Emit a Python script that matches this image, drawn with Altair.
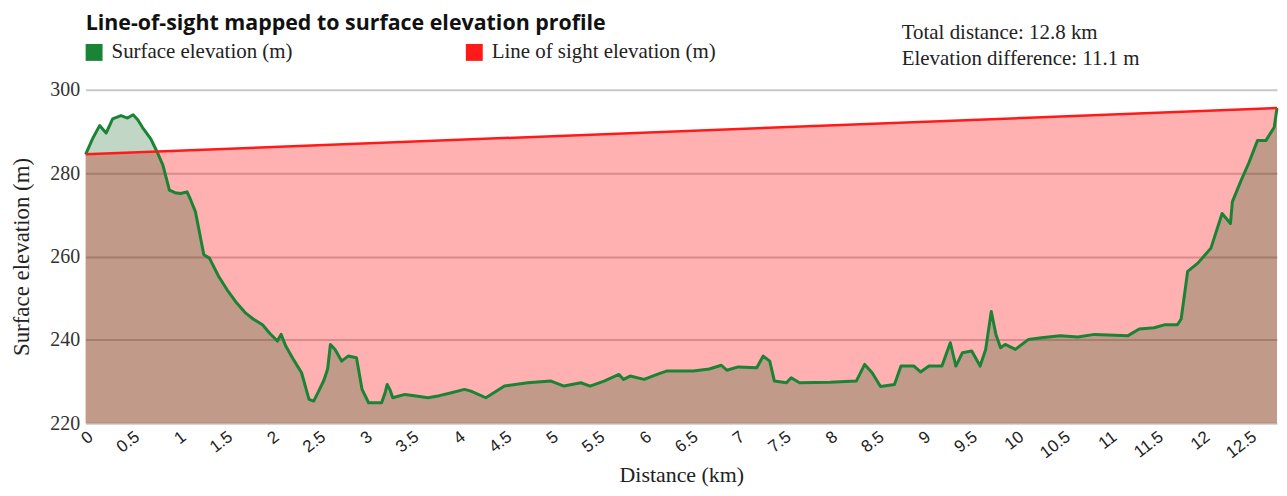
import altair as alt
import pandas as pd

# Surface elevation profile (distance km, elevation m)
dist = [0.00, 0.08, 0.15, 0.22, 0.29, 0.38, 0.45, 0.51, 0.56, 0.61, 0.70, 0.77, 0.83, 0.90, 0.96,
        1.02, 1.09, 1.13, 1.18, 1.27, 1.33, 1.43, 1.52, 1.61, 1.72, 1.80, 1.90, 1.98, 2.06, 2.10,
        2.15, 2.24, 2.32, 2.40, 2.45, 2.50, 2.56, 2.60, 2.63, 2.68, 2.75, 2.82, 2.91, 2.97, 3.04,
        3.18, 3.22, 3.24, 3.27, 3.30, 3.43, 3.55, 3.68, 3.80, 3.93, 4.07, 4.14, 4.30, 4.50, 4.75,
        5.00, 5.14, 5.32, 5.42, 5.57, 5.73, 5.78, 5.85, 6.00, 6.14, 6.24, 6.53, 6.70, 6.83, 6.89,
        7.01, 7.21, 7.28, 7.35, 7.40, 7.53, 7.58, 7.67, 8.00, 8.28, 8.37, 8.45, 8.54, 8.69, 8.76,
        8.90, 8.97, 9.06, 9.20, 9.29, 9.35, 9.42, 9.52, 9.61, 9.67, 9.73, 9.78, 9.83, 9.88, 9.99,
        10.13, 10.27, 10.47, 10.66, 10.84, 11.20, 11.32, 11.48, 11.59, 11.73, 11.77, 11.84, 11.95,
        12.09, 12.21, 12.30, 12.32, 12.41, 12.50, 12.59, 12.68, 12.77, 12.80]
elev = [284.5, 288.5, 291.4, 289.6, 293.0, 293.8, 293.2, 294.0, 292.8, 291.0, 288.2, 285.0, 281.9, 275.9, 275.3,
        275.1, 275.5, 273.5, 270.7, 260.4, 259.6, 255.2, 252.0, 249.2, 246.4, 245.0, 243.6, 241.5, 239.7, 241.3,
        238.5, 235.0, 232.1, 225.7, 225.3, 227.5, 230.3, 233.0, 238.9, 237.7, 234.9, 236.1, 235.7, 228.1, 224.9,
        224.9, 227.5, 229.3, 228.0, 226.1, 226.9, 226.5, 226.1, 226.6, 227.3, 228.1, 227.7, 226.1, 228.9, 229.7,
        230.1, 228.9, 229.7, 228.9, 230.1, 231.7, 230.5, 231.3, 230.5, 231.7, 232.5, 232.5, 233.0, 233.9, 232.7,
        233.5, 233.3, 236.1, 234.9, 230.1, 229.7, 230.9, 229.7, 229.8, 230.1, 234.1, 232.1, 228.8, 229.3, 233.7,
        233.7, 232.3, 233.7, 233.7, 239.3, 233.7, 236.9, 237.3, 233.7, 237.7, 246.8, 241.3, 238.1, 238.9, 237.7,
        240.1, 240.5, 241.0, 240.7, 241.3, 241.0, 242.6, 242.9, 243.6, 243.6, 245.0, 256.4, 258.4,
        262.0, 270.3, 267.9, 273.1, 278.0, 282.6, 287.8, 287.8, 291.0, 295.6]

# Line of sight endpoints
los_dist = [0.0, 12.8]
los_elev = [284.5, 295.6]

series_names = ["Surface elevation (m)", "Line of sight elevation (m)"]
series_colors = ["#1a8436", "#ff1a1a"]

x_ticks = [i * 0.5 for i in range(26)]
y_ticks = [220, 240, 260, 280, 300]

title_text = "Line-of-sight mapped to surface elevation profile"
info_lines = ["Total distance: 12.8 km", "Elevation difference: 11.1 m"]

surf = pd.DataFrame({"d": dist, "e": elev, "series": series_names[0]})
los = pd.DataFrame({"d": los_dist, "e": los_elev, "series": series_names[1]})

xs = alt.Scale(domain=[0, 12.8], nice=False, zero=False)
ys = alt.Scale(domain=[220, 300], nice=False, zero=False)

X = alt.X("d:Q", scale=xs, title="Distance (km)",
          axis=alt.Axis(values=x_ticks, format="~g", labelAngle=-38, labelFont="Liberation Sans",
                        labelFontSize=17, labelColor="#222", ticks=False, domain=False, grid=False,
                        labelPadding=5, titleFont="Liberation Serif", titleFontSize=22,
                        titleFontWeight="normal", titleColor="#222", titlePadding=4,
                        labelOverlap=False, labelFlush=False))
Y = alt.Y("e:Q", scale=ys, title="Surface elevation (m)",
          axis=alt.Axis(values=y_ticks, labelFont="Liberation Serif", labelFontSize=20,
                        labelColor="#333", ticks=False, domain=False, grid=True,
                        gridColor="#c8c8c8", gridWidth=2, labelPadding=6,
                        titleFont="Liberation Serif", titleFontSize=23, titleFontWeight="normal",
                        titleColor="#222", titlePadding=16))

color = alt.Color("series:N", scale=alt.Scale(domain=series_names, range=series_colors),
                  legend=alt.Legend(title=None, orient="none", legendX=-2, legendY=-48,
                                    direction="horizontal", symbolType="square", symbolSize=49,
                                    symbolStrokeWidth=10, labelFont="Liberation Serif",
                                    labelFontSize=21, labelColor="#222", labelOffset=7,
                                    columnPadding=159, labelLimit=400))

los_area = alt.Chart(los).mark_area(color="#ff0000", opacity=0.31).encode(
    x=X, y=Y, y2=alt.datum(220))
surf_area = alt.Chart(surf).mark_area(color="#00520e", opacity=0.24).encode(
    x=X, y=Y, y2=alt.datum(220))
surf_line = alt.Chart(surf).mark_line(strokeWidth=3, strokeJoin="round").encode(
    x=X, y=Y, color=color)
los_line = alt.Chart(los).mark_line(strokeWidth=2.5).encode(x=X, y=Y, color=color)

anno = alt.Data(values=[{}])
title_mark = alt.Chart(anno).mark_text(
    text=title_text, font="Open Sans", fontWeight="bold", fontSize=21.5, align="left",
    baseline="middle", color="#111").encode(x=alt.value(0), y=alt.value(-66))
info1 = alt.Chart(anno).mark_text(
    text=info_lines[0], font="Liberation Serif", fontSize=21, align="left",
    baseline="middle", color="#222").encode(x=alt.value(820), y=alt.value(-57))
info2 = alt.Chart(anno).mark_text(
    text=info_lines[1], font="Liberation Serif", fontSize=21, align="left",
    baseline="middle", color="#222").encode(x=alt.value(820), y=alt.value(-31))

chart = alt.layer(los_area, surf_area, surf_line, los_line, title_mark, info1, info2).properties(
    width=1197, height=335,
    autosize=alt.AutoSizeParams(type="none"),
    padding={"left": 78, "top": 81, "right": 2, "bottom": 64},
).configure_view(stroke=None)

chart.save("out.html", embed_options={"renderer": "svg", "actions": False})
